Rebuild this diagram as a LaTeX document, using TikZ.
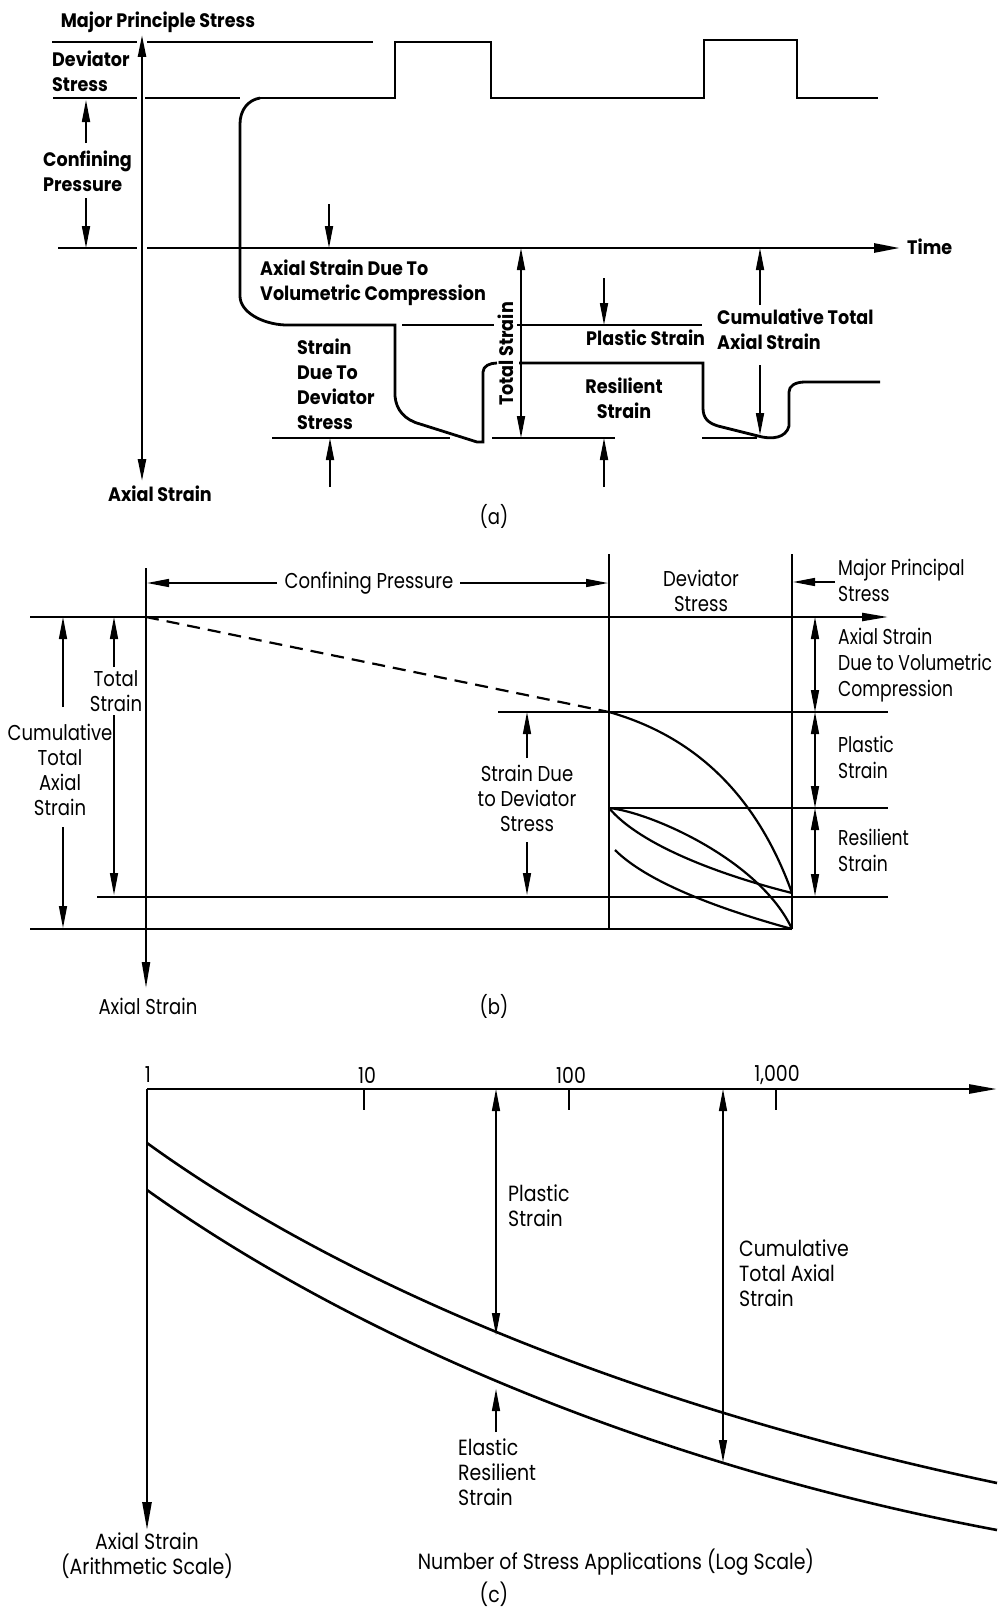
\documentclass[tikz,border=0pt]{standalone}
\usepackage{fontspec}
\usetikzlibrary{arrows.meta}
\newfontfamily\fa{Poppins}[FakeStretch=0.9]
\newfontfamily\fb{Poppins}[FakeStretch=0.84]
\newfontfamily\fbn{Poppins}[FakeStretch=0.8]
\newfontfamily\fc{Poppins}[FakeStretch=0.86]
\begin{document}
\begin{tikzpicture}[x=1pt,y=-1pt,
  la/.style={line width=2.8pt},
  lb/.style={line width=2.2pt},
  lc/.style={line width=2.6pt},
  ar/.style={-{Triangle[length=22pt,width=8pt]},line width=1.7pt},
  dar/.style={{Triangle[length=22pt,width=8pt]}-{Triangle[length=22pt,width=8pt]},line width=1.7pt},
  ta/.style={font=\fa\bfseries\fontsize{19.5}{25}\selectfont,inner sep=0pt},
  tb/.style={font=\fb\fontsize{21.5}{25}\selectfont,inner sep=0pt},
  tbn/.style={font=\fbn\fontsize{21.5}{26}\selectfont,inner sep=0pt},
  tc/.style={font=\fc\fontsize{22}{25}\selectfont,inner sep=0pt}]
\fill[white] (0,0) rectangle (998,1611);
\useasboundingbox (0,0) rectangle (998,1611);

% ---------------- (a) ----------------
\draw[dar,line width=2.4pt] (142,481) -- (142,35);
\draw[la] (52,42) -- (137,42);
\draw[la] (147,42) -- (373,42);
\draw[la] (53,98) -- (137,98);
\draw[la] (145,98) -- (240,98);
\draw[la] (260,98) -- (395,98) -- (395,42) -- (491,42) -- (491,98) -- (704,98) -- (704,40) -- (797,40) -- (797,98) -- (878,98);
\draw[la] (58,248) -- (137,248);
\draw[la,-{Triangle[length=26pt,width=9pt]}] (147,248) -- (900,248);
\draw[la] (260,98) .. controls (248,100) and (240,110) .. (240,124) -- (240,296)
  .. controls (240,312) and (262,324) .. (285,325) -- (395,325) -- (395,396)
  .. controls (396,410) and (405,420) .. (420,424) -- (477,442) -- (483,442) -- (483,372)
  .. controls (483,366) and (490,363) .. (497,363);
\draw[la] (402,325) -- (494,325);
\draw[la] (517,325) -- (702,325);
\draw[la] (519,363) -- (703,363) -- (703,408) .. controls (703,418) and (708,423) .. (718,426)
  -- (758,436) .. controls (772,440) and (786,438) .. (789,426) -- (789,392)
  .. controls (789,386) and (795,382) .. (805,382) -- (880,382);
\draw[la] (272,438) -- (450,438);
\draw[la] (492,438) -- (615,438);
\draw[la] (702,438) -- (757,438);

\draw[ar] (86,143) -- (86,100);
\draw[ar] (86,198) -- (86,248);
\draw[ar] (329,204) -- (329,248);
\draw[ar] (330,487) -- (330,438);
\draw[dar] (521,248) -- (521,438);
\draw[ar] (604,278) -- (604,325);
\draw[ar] (604,487) -- (604,438);
\draw[ar] (760,305) -- (760,248);
\draw[ar] (760,365) -- (760,435);

\node[ta] (mps) at (158,22) {Major Principle Stress};
\node[ta,anchor=west,align=left] (devA) at (52,71) {Deviator\\Stress};
\node[ta,anchor=west,align=left] (confA) at (43,171.5) {Confining\\Pressure};
\node[ta,anchor=west,align=left] (volA) at (260,282.5) {Axial Strain Due To\\Volumetric Compression};
\node[ta,anchor=west,align=left] (sddA) at (297,384) {Strain\\Due To\\Deviator\\Stress};
\node[ta,rotate=90] (tsA) at (506,354) {Total Strain};
\node[ta,anchor=west] (psA) at (586,338) {Plastic Strain};
\node[ta,align=center] (rsA) at (624,398.5) {Resilient\\Strain};
\node[ta,anchor=west,align=left] (ctaA) at (717,329.5) {Cumulative Total\\Axial Strain};
\node[ta,anchor=west] (timeA) at (907,247) {Time};
\node[ta] (asA) at (160,494) {Axial Strain};
\node[tb] (labA) at (494,516) {(a)};

% ---------------- (b) ----------------
\draw[lb,-{Triangle[length=26pt,width=8pt]}] (30,617) -- (888,617);
\draw[lb,-{Triangle[length=26pt,width=8pt]}] (146,568) -- (146,988);
\draw[lb] (498,712) -- (888,712);
\draw[lb] (609,808) -- (888,808);
\draw[lb] (97,897) -- (888,897);
\draw[lb] (30,929) -- (792,929);
\draw[lb] (609,554) -- (609,929);
\draw[lb] (792,554) -- (792,929);
\draw[lb,dash pattern=on 13pt off 8pt] (146,617) -- (609,712);
\draw[lb] (609,712) .. controls (690,735) and (755,790) .. (792,893);
\draw[lb] (609,808) .. controls (640,845) and (720,875) .. (792,893);
\draw[lb] (609,808) .. controls (650,812) and (760,860) .. (792,929);
\draw[lb] (615,850) .. controls (650,885) and (730,912) .. (792,929);

\draw[ar,line width=1.5pt] (277,583) -- (147,583);
\draw[ar,line width=1.5pt] (460,583) -- (608,583);
\draw[ar,line width=1.5pt] (835,582) -- (793,582);
\draw[dar,line width=1.5pt] (815,617) -- (815,712);
\draw[dar,line width=1.5pt] (815,712) -- (815,808);
\draw[dar,line width=1.5pt] (815,808) -- (815,896);
\draw[ar,line width=1.5pt] (63,707) -- (63,617);
\draw[ar,line width=1.5pt] (63,827) -- (63,928);
\draw[ar,line width=1.5pt] (114,667) -- (114,617);
\draw[ar,line width=1.5pt] (114,715) -- (114,895);
\draw[ar,line width=1.5pt] (527,758) -- (527,712);
\draw[ar,line width=1.5pt] (527,842) -- (527,895);

\node[tb] (confB) at (369,583) {Confining Pressure};
\node[tb,align=center] (devB) at (701,590.5) {Deviator\\Stress};
\node[tbn,anchor=west,align=left] (mpsB) at (838,580) {Major Principal\\Stress};
\node[tbn,anchor=west,align=left] (volB) at (838,665) {Axial Strain\\Due to Volumetric\\Compression};
\node[tbn,anchor=west,align=left] (psB) at (838,757.5) {Plastic\\Strain};
\node[tbn,anchor=west,align=left] (rsB) at (838,850) {Resilient\\Strain};
\node[tb,align=center] (sddB) at (527,798) {Strain Due\\to Deviator\\Stress};
\node[tb,align=center] (ctaB) at (60,769.5) {Cumulative\\Total\\Axial\\Strain};
\node[tb,align=center] (tsB) at (116,691) {Total\\Strain};
\node[tb] (asB) at (148,1006) {Axial Strain};
\node[tb] (labB) at (494,1006) {(b)};

% ---------------- (c) ----------------
\draw[lc,-{Triangle[length=28pt,width=9pt]}] (147,1089) -- (997,1089);
\draw[lc,-{Triangle[length=28pt,width=9pt]}] (147,1089) -- (147,1530);
\draw[lc] (364,1089) -- (364,1110);
\draw[lc] (569,1089) -- (569,1110);
\draw[lc] (776,1089) -- (776,1110);
\draw[lc] (147,1143) .. controls (350,1290) and (650,1410) .. (997,1483);
\draw[lc] (147,1190) .. controls (350,1335) and (650,1465) .. (997,1530);
\draw[dar,line width=1.4pt] (496,1089) -- (496,1335);
\draw[ar,line width=1.4pt] (496,1432) -- (496,1389);
\draw[dar,line width=1.4pt] (723,1089) -- (723,1462);

\node[tc] (t1) at (148,1075) {1};
\node[tc] (t10) at (367,1075) {10};
\node[tc] (t100) at (571,1075) {100};
\node[tc] (t1000) at (777,1075) {1,000};
\node[tc,anchor=west,align=left] (psC) at (508,1206) {Plastic\\Strain};
\node[tc,anchor=west,align=left] (ersC) at (458,1472) {Elastic\\Resilient\\Strain};
\node[tc,anchor=west,align=left] (ctaC) at (739,1273) {Cumulative\\Total Axial\\Strain};
\node[tc,align=center] (asC) at (147,1556) {Axial Strain\\(Arithmetic Scale)};
\node[tc] (nsC) at (616,1562) {Number of Stress Applications (Log Scale)};
\node[tc] (labC) at (494,1594) {(c)};
\end{tikzpicture}
\end{document}
